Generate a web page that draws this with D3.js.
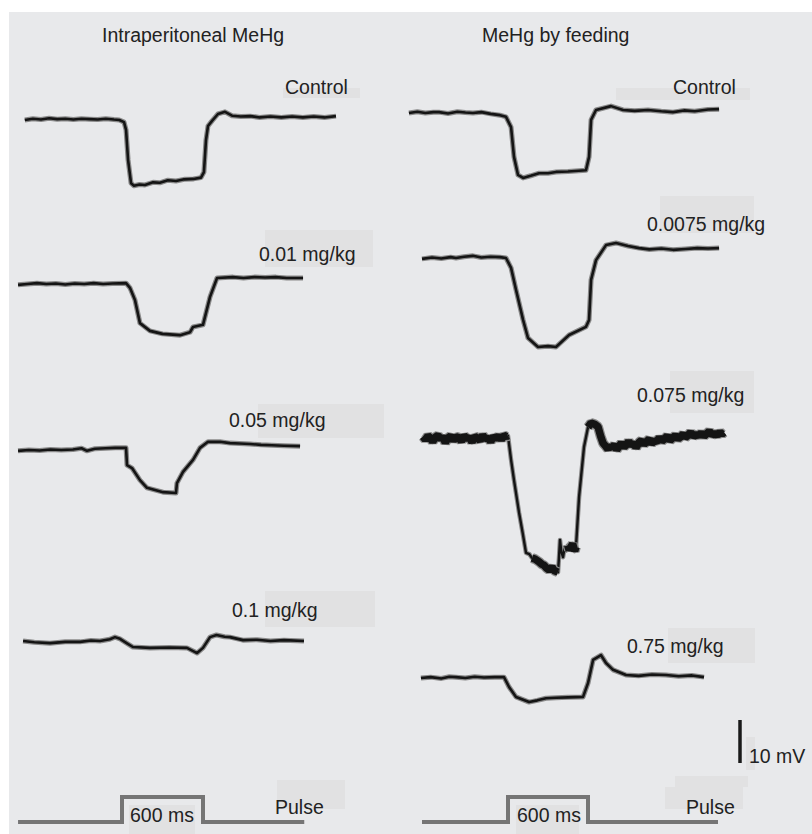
<!DOCTYPE html>
<html><head><meta charset="utf-8">
<script src="https://cdn.jsdelivr.net/npm/d3@7/dist/d3.min.js"></script>
<style>html,body{margin:0;padding:0;background:#fff;}svg{display:block;}</style>
</head><body><svg id="c" width="812" height="834"></svg>
<script>
// ---------------- DATA (time in ms from pulse onset, voltage in mV from pre-pulse baseline)
const panelTitles = ["Intraperitoneal MeHg", "MeHg by feeding"];
const doseLabelsIP = ["Control", "0.01 mg/kg", "0.05 mg/kg", "0.1 mg/kg"];
const doseLabelsFeed = ["Control", "0.0075 mg/kg", "0.075 mg/kg", "0.75 mg/kg"];

const ipControl = [[-720,0],[-660,0.3],[-600,0.1],[-540,0.4],[-480,0.2],[-420,0.3],[-360,0.1],[-300,0.3],[-240,0.2],[-180,0.1],[-120,0.3],[-60,0.1],[-20,0],[15,-0.5],[30,-2.3],[45,-9.3],[67,-14.7],[89,-15.3],[130,-15.0],[170,-15.1],[230,-14.5],[280,-14.6],[340,-14.0],[400,-14.2],[460,-13.8],[530,-13.7],[585,-13.4],[607,-12.1],[622,-4.7],[637,-1.4],[667,-0.2],[711,1.4],[763,1.9],[815,1.0],[880,0.8],[950,0.9],[1020,0.6],[1100,0.8],[1180,0.6],[1260,0.8],[1340,0.6],[1420,0.8],[1500,0.6],[1585,0.9]];
const ip001 = [[-770,-0.2],[-700,0],[-630,0.2],[-560,0],[-490,0.1],[-420,-0.1],[-350,0.1],[-280,0],[-210,0.2],[-140,0],[-70,0.1],[30,0.2],[59,-0.9],[96,-3.7],[133,-9.1],[207,-10.9],[300,-11.6],[430,-11.9],[504,-11.2],[526,-10],[600,-9.5],[652,-3.0],[704,1.4],[822,1.6],[900,1.4],[980,1.6],[1060,1.5],[1140,1.6],[1220,1.4],[1341,1.4]];
const ip005 = [[-770,-0.2],[-690,0],[-610,-0.1],[-530,0.1],[-450,0],[-363,0.1],[-300,0.4],[-259,-0.2],[-200,0.3],[-120,0.4],[-50,0.5],[30,0.5],[37,-3.5],[74,-4.2],[133,-7],[185,-8.8],[304,-9.8],[400,-10],[407,-7.7],[452,-5.1],[526,-2.3],[578,0.5],[637,1.9],[726,1.9],[800,1.6],[870,1.5],[948,1.4],[1030,1.2],[1110,1.1],[1200,1.0],[1319,0.9]];
const ip01 = [[-733,0],[-650,-0.3],[-533,-0.5],[-420,-0.2],[-311,-0.2],[-230,0.1],[-163,0],[-90,0.4],[-52,0.9],[-15,0.5],[40,-0.6],[81,-1.4],[207,-1.6],[350,-1.5],[481,-1.6],[556,-2.8],[600,-1.6],[652,0.9],[700,1.4],[760,1.0],[800,0.9],[896,0.2],[1000,0.3],[1100,0],[1200,0.2],[1348,0]];

const feedControl = [[-743,0],[-680,0.3],[-620,0],[-560,0.2],[-518,0.2],[-450,-0.1],[-380,0.3],[-320,0.1],[-263,0],[-200,0.2],[-130,-0.2],[-60,-0.5],[-15,-0.9],[23,-3.3],[45,-10.2],[75,-14.4],[113,-15.1],[170,-14.6],[233,-14],[300,-14],[360,-13.7],[450,-13.6],[585,-13.3],[608,-10.2],[623,-1.6],[660,0.7],[773,1.6],[863,0.7],[950,0.5],[1050,0.7],[1150,0.4],[1238,0.2],[1320,0.6],[1400,0.4],[1500,0.8],[1583,0.9]];
const feed00075 = [[-645,-0.2],[-570,0.1],[-500,-0.1],[-430,0.2],[-390,0],[-330,0.3],[-263,0.5],[-200,0.1],[-130,0.3],[-60,0.2],[-15,0],[23,-2.3],[60,-7.4],[113,-14.4],[150,-18.6],[225,-20.7],[300,-20.5],[360,-20.7],[458,-17.9],[585,-16],[608,-14.4],[623,-5.1],[660,-0.5],[735,3.0],[810,3.5],[900,2.8],[983,2.3],[1060,2.0],[1150,2.2],[1238,1.9],[1330,2.1],[1420,2.3],[1500,2.2],[1583,2.3]];
const feed0075 = [[-638,0.3],[-620,-0.4],[-600,0.5],[-585,0.1],[-565,-0.9],[-545,0.2],[-525,0.6],[-505,-0.3],[-490,0.4],[-470,-1.1],[-450,0.0],[-430,0.5],[-410,-0.6],[-390,0.3],[-370,0.1],[-350,-0.8],[-330,0.6],[-310,-0.2],[-290,0.2],[-270,-1.0],[-250,0.4],[-230,0.0],[-210,-0.6],[-190,0.7],[-170,-0.3],[-150,0.1],[-130,-0.9],[-110,0.4],[-90,-0.2],[-70,0.5],[-50,-0.4],[-30,0.6],[-10,0.3],[0,0.5],[23,-5.1],[45,-9.8],[83,-17.4],[110,-22.1],[135,-26.7],[160,-27.0],[180,-27.9],[205,-28.2],[233,-28.8],[255,-29.4],[270,-29.6],[290,-30.3],[308,-30.7],[330,-30.0],[345,-30.8],[360,-31.0],[375,-31.2],[382,-28.0],[390,-23.7],[400,-26.5],[413,-27.7],[425,-25.4],[435,-26.2],[448,-25.0],[458,-26.0],[472,-25.3],[485,-24.6],[500,-26.3],[510,-25.3],[533,-13.7],[570,-2.1],[600,2.5],[623,3.5],[650,3.2],[675,2.6],[695,0.4],[713,-1.2],[735,-2.0],[750,-2.6],[765,-1.7],[780,-2.4],[800,-1.5],[815,-2.8],[835,-1.8],[850,-1.2],[870,-2.1],[890,-1.5],[905,-0.7],[925,-1.8],[945,-1.1],[960,-2.3],[983,-1.0],[1000,-0.6],[1020,-1.5],[1040,-0.8],[1060,-0.2],[1075,-1.4],[1095,-0.6],[1115,-0.9],[1135,0.1],[1155,-0.7],[1175,-0.2],[1195,0.5],[1215,-0.6],[1238,0.1],[1255,0.6],[1275,-0.2],[1295,0.3],[1315,1.0],[1330,0.1],[1350,0.6],[1370,1.4],[1390,0.3],[1410,0.9],[1430,0.5],[1450,1.2],[1470,0.4],[1490,1.0],[1510,1.6],[1530,0.7],[1550,1.1],[1570,0.6],[1590,1.4],[1605,0.9],[1620,1.3]];
const feed075 = [[-653,0],[-580,0.2],[-500,-0.1],[-440,0.3],[-390,0.2],[-320,0],[-250,0.3],[-180,0.1],[-100,0.2],[-30,0.2],[8,-2.1],[60,-4.4],[158,-5.6],[220,-5.2],[285,-4.7],[360,-4.6],[450,-4.5],[563,-4.4],[600,-1.2],[638,4.2],[698,5.3],[735,3.5],[788,1.9],[885,0.7],[980,0.5],[1080,0.8],[1185,0.7],[1280,0.4],[1380,0.6],[1470,0.2]];

const pulseIP = [[-770,0],[0,0],[0,1],[600,1],[600,0],[1350,0]];
const pulseFeed = [[-645,0],[0,0],[0,1],[600,1],[600,0],[1575,0]];
const pulseText = "Pulse";
const pulseDurationText = "600 ms";
const scaleBarMV = 10;
const scaleBarText = "10 mV";

// ---------------- LAYOUT
const svg = d3.select("#c");
const FONT = "'Liberation Sans', Arial, Helvetica, sans-serif";
const TEXT = "#222";
svg.append("rect").attr("x",9).attr("y",12).attr("width",803).attr("height",822).attr("fill","#e8e9eb");

// faint label boxes seen in the figure
const boxes = [[283,88,77,10],[616,88,134,12],[660,196,94,37],[265,230,108,37],[258,404,126,34],[670,371,84,42],[265,591,110,36],[668,628,87,35],[746,737,9,33],[675,776,73,11],[665,787,78,22],[277,780,68,29],[129,805,66,29],[516,805,63,29]];
svg.append("g").selectAll("rect").data(boxes).join("rect")
  .attr("x",d=>d[0]).attr("y",d=>d[1]).attr("width",d=>d[2]).attr("height",d=>d[3]).attr("fill","#e1e1e2");

const pxPerMV = 4.3;
const panels = [
  {title: panelTitles[0], titleX:102, x: d3.scaleLinear().domain([0,600]).range([122,203]),
   traces:[ipControl, ip001, ip005, ip01], labels: doseLabelsIP,
   bases:[120,284,450,641], labelPos:[[285,94],[259,261],[229,427],[232,617]],
   pulse: pulseIP, pulseTextX:275, durX:130, noisy:[null,null,null,null]},
  {title: panelTitles[1], titleX:482, x: d3.scaleLinear().domain([0,600]).range([508,588]),
   traces:[feedControl, feed00075, feed0075, feed075], labels: doseLabelsFeed,
   bases:[113,258,438,678], labelPos:[[673,94],[647,231],[637,402],[627,653]],
   pulse: pulseFeed, pulseTextX:686, durX:517, noisy:[null,null,[[-700,2],[170,375],[448,512],[600,1700]],null]}
];

function drawPath(d, lineGen, halo, core, join) {
  svg.append("path").attr("d",lineGen(d)).attr("fill","none")
    .attr("stroke","#8a8a8a").attr("stroke-width",halo).attr("stroke-linejoin",join||"round").attr("stroke-linecap","butt");
  svg.append("path").attr("d",lineGen(d)).attr("fill","none")
    .attr("stroke","#141414").attr("stroke-width",core).attr("stroke-linejoin",join||"round").attr("stroke-linecap","butt");
}

panels.forEach(p => {
  svg.append("text").attr("x",p.titleX).attr("y",42).text(p.title)
    .attr("font-family",FONT).attr("font-size",19.5).attr("fill",TEXT);
  p.traces.forEach((tr,i) => {
    const base = p.bases[i];
    const y = d3.scaleLinear().domain([0,10]).range([base, base-10*pxPerMV]);
    const line = d3.line().x(d=>p.x(d[0])).y(d=>y(d[1]));
    const noisy = p.noisy[i];
    if (noisy) {
      drawPath(tr, line, 4.5, 2.4);
      noisy.forEach(([a,b]) => {
        const seg = tr.filter(d => d[0] >= a && d[0] <= b);
        drawPath(seg, line, 10, 7.5, "bevel");
      });
    } else {
      drawPath(tr, line, 5, 2.6);
    }
    svg.append("text").attr("x",p.labelPos[i][0]).attr("y",p.labelPos[i][1]).text(p.labels[i])
      .attr("font-family",FONT).attr("font-size",19.5).attr("fill",TEXT);
  });
  // pulse
  const yp = d3.scaleLinear().domain([0,1]).range([822,797]);
  const pl = d3.line().x(d=>p.x(d[0])).y(d=>yp(d[1]));
  svg.append("path").attr("d",pl(p.pulse)).attr("fill","none")
    .attr("stroke","#757575").attr("stroke-width",4);
  svg.append("text").attr("x",p.durX).attr("y",822).text(pulseDurationText)
    .attr("font-family",FONT).attr("font-size",19.5).attr("fill",TEXT);
  svg.append("text").attr("x",p.pulseTextX).attr("y",814).text(pulseText)
    .attr("font-family",FONT).attr("font-size",19.5).attr("fill",TEXT);
});

// scale bar
const ys = d3.scaleLinear().domain([0,10]).range([763, 763-10*pxPerMV]);
svg.append("line").attr("x1",740).attr("x2",740).attr("y1",ys(0)).attr("y2",ys(scaleBarMV))
  .attr("stroke","#1a1a1a").attr("stroke-width",3.5);
svg.append("text").attr("x",749).attr("y",763).text(scaleBarText)
  .attr("font-family",FONT).attr("font-size",19.5).attr("fill",TEXT);
</script></body></html>
